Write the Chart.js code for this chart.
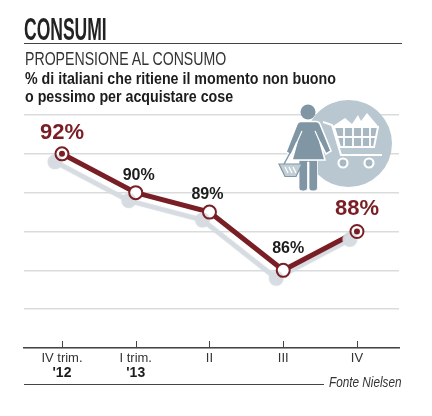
<!DOCTYPE html>
<html>
<head>
<meta charset="utf-8">
<script src="https://cdn.jsdelivr.net/npm/chart.js@4/dist/chart.umd.min.js"></script>
<style>
html, body { margin: 0; padding: 0; background: #fff; }
#wrap { position: relative; width: 432px; height: 416px; overflow: hidden; font-family: "Liberation Sans", Arial, sans-serif; color: #1c1c1c; }
#wrap canvas { position: absolute; left: 0; top: 0; }
.txt { position: absolute; white-space: nowrap; transform-origin: 0 0; }
#title { left: 24px; top: 13px; font: bold 31px/34px "Liberation Sans", sans-serif; transform: scaleX(0.565); color: #222; }
#rule { position: absolute; left: 24px; top: 43px; width: 378px; height: 1px; background: #444; }
#sub { left: 25px; top: 49px; font: 18px/20px "Liberation Sans", sans-serif; transform: scaleX(0.785); color: #333; }
#desc1 { left: 25px; top: 70px; font: bold 16px/18px "Liberation Sans", sans-serif; transform: scaleX(0.89); }
#desc2 { left: 25px; top: 88px; font: bold 16px/18px "Liberation Sans", sans-serif; transform: scaleX(0.89); }
#srcrule { position: absolute; left: 24px; top: 384px; width: 300px; height: 1px; background: #444; }
#src { left: 329px; top: 373px; font: italic 14px/18px "Liberation Sans", sans-serif; transform: scaleX(0.84); color: #333; }
#icon { position: absolute; left: 270px; top: 95px; }
</style>
</head>
<body>
<div id="wrap">
  <canvas id="consumiChart" width="432" height="416"></canvas>
  <div class="txt" id="title">CONSUMI</div>
  <div id="rule"></div>
  <div class="txt" id="sub">PROPENSIONE AL CONSUMO</div>
  <div class="txt" id="desc1">% di italiani che ritiene il momento non buono</div>
  <div class="txt" id="desc2">o pessimo per acquistare cose</div>
  <div id="srcrule"></div>
  <div class="txt" id="src">Fonte Nielsen</div>
  <svg id="icon" width="130" height="100" viewBox="270 95 130 100">
    <circle cx="348.500" cy="143.500" r="43.500" fill="#b9c7d0"/>
    <!-- carrello -->
    <path d="M323 122 L332 125 L341 155 L382 155" fill="none" stroke="#fff" stroke-width="2"/>
    <path d="M345 118 L352 124 L358 115 L361 121 L367 113 L378 126 L333 126 Z" fill="#fff"/>
    <path d="M334 127 L378 127 L374 147 L340 147 Z" fill="#a7b8c3" stroke="#fff" stroke-width="2"/>
    <path d="M344 127V147 M353 127V147 M362 127V147 M370 127V147 M336 137H376" stroke="#fff" stroke-width="1.8"/>
    <circle cx="343" cy="163" r="4.500" fill="#a7b8c3" stroke="#fff" stroke-width="2.200"/>
    <circle cx="369" cy="163" r="4.500" fill="#a7b8c3" stroke="#fff" stroke-width="2.200"/>
    <!-- donna -->
    <circle cx="308" cy="112" r="7.500" fill="#8096a5"/>
    <path d="M299 160 H317.500 V188 Q317.500 191 313.500 191 Q309 191 309 188 V162 H307.500 V188 Q307.500 191 303.500 191 Q299 191 299 188 Z" fill="#8096a5" stroke="#fff" stroke-width="0.800"/>
    <path d="M301 121.500 L316 121.500 Q319 121.500 320 124 L331 151 L326 154 L320 142 L325 160 L292 160 L297 142 L291 155 L286 152 L297 124 Q298 121.500 301 121.500 Z" fill="#8096a5" stroke="#fff" stroke-width="1.600"/>
    <path d="M302 131 L294 149 M315 131 L323 149" stroke="#fff" stroke-width="1.200"/>
    <!-- cestino -->
    <path d="M290 153 L284 164" stroke="#8096a5" stroke-width="1.400"/>
    <path d="M279 164 L302 164 L296 176.500 L285 176.500 Z" fill="#c2ced6" stroke="#8096a5" stroke-width="1.200"/>
    <path d="M285 167 L288 173 M289 167 L292 173 M293 167 L296 173" stroke="#fff" stroke-width="1.300"/>
  </svg>
</div>
<script>
var categories = ['IV trim.', 'I trim.', 'II', 'III', 'IV'];
var years = ["'12", "'13", '', '', ''];
var values = [92, 90, 89, 86, 88];
var yTicks = [82, 84, 86, 88, 90, 92, 94];

var dark = '#7a1e26';

// offset of each value label from its point
var labelOffsets = [[0, -21], [3, -17], [-2, -17], [5, -22], [0, -23]];

var points = values.map(function(v, i) { return { x: i, y: v }; });
var endPoints = [points[0], points[points.length - 1]];

var extras = {
    id: 'extras',
    // grey shadow of line and markers, only for the main dataset
    beforeDatasetDraw: function(chart, args) {
        if (args.index !== 0) return;
        var ctx = chart.ctx;
        ctx.save();
        ctx.shadowColor = '#d6dce1';
        ctx.shadowOffsetX = -7;
        ctx.shadowOffsetY = 8;
        ctx.shadowBlur = 1;
    },
    afterDatasetDraw: function(chart, args) {
        if (args.index !== 0) return;
        chart.ctx.restore();
    },
    afterDraw: function(chart) {
        var ctx = chart.ctx;
        var xs = chart.scales.x;
        var ys = chart.scales.y;
        ctx.save();
        // tick marks go up from the axis
        ctx.strokeStyle = '#444';
        ctx.lineWidth = 1;
        categories.forEach(function(c, i) {
            var px = Math.round(xs.getPixelForValue(i)) + 0.5;
            ctx.beginPath();
            ctx.moveTo(px, ys.bottom - 7);
            ctx.lineTo(px, ys.bottom);
            ctx.stroke();
        });
        ctx.textAlign = 'center';
        ctx.textBaseline = 'middle';
        // years under the first two ticks
        ctx.fillStyle = '#1c1c1c';
        ctx.font = 'bold 14px "Liberation Sans"';
        years.forEach(function(t, i) {
            if (t) ctx.fillText(t, xs.getPixelForValue(i), 373);
        });
        // value labels
        values.forEach(function(v, i) {
            var big = i === 0 || i === values.length - 1;
            ctx.fillStyle = big ? dark : '#1c1c1c';
            ctx.font = 'bold ' + (big ? 22 : 16) + 'px "Liberation Sans"';
            ctx.fillText(v + '%', xs.getPixelForValue(i) + labelOffsets[i][0], ys.getPixelForValue(v) + labelOffsets[i][1]);
        });
        ctx.restore();
    }
};

var chart = new Chart(document.getElementById('consumiChart').getContext('2d'), {
    type: 'line',
    data: {
        datasets: [{
            data: points,
            order: 1,
            borderColor: dark,
            borderWidth: 5,
            tension: 0,
            pointRadius: 6.5,
            pointBorderWidth: 2,
            pointBorderColor: dark,
            pointBackgroundColor: '#fff'
        }, {
            // dot inside the first and last marker
            data: endPoints,
            order: 0,
            showLine: false,
            pointRadius: 3,
            pointBorderWidth: 0,
            pointBackgroundColor: dark
        }]
    },
    options: {
        responsive: false,
        animation: false,
        layout: { padding: { left: 24, right: 33, top: 115, bottom: 0 } },
        plugins: { legend: { display: false }, tooltip: { enabled: false } },
        scales: {
            x: {
                type: 'linear',
                min: -0.515,
                max: 4.57,
                afterBuildTicks: function(scale) {
                    scale.ticks = categories.map(function(c, i) { return { value: i }; });
                },
                afterFit: function(scale) { scale.height = 68; },
                grid: { display: false, drawTicks: false },
                border: { display: true, color: '#444', width: 1.5 },
                ticks: {
                    autoSkip: false,
                    maxRotation: 0,
                    padding: 3,
                    color: '#333',
                    font: { family: '"Liberation Sans"', size: 13 },
                    callback: function(v) { return categories[v]; }
                }
            },
            y: {
                min: yTicks[0],
                max: yTicks[yTicks.length - 1],
                afterBuildTicks: function(scale) {
                    scale.ticks = yTicks.map(function(v) { return { value: v }; });
                },
                afterFit: function(scale) { scale.width = 0; },
                grid: { color: '#d9dbdc', lineWidth: 1.5, drawTicks: false },
                border: { display: false },
                ticks: { display: false }
            }
        }
    },
    plugins: [extras]
});
</script>
</body>
</html>
